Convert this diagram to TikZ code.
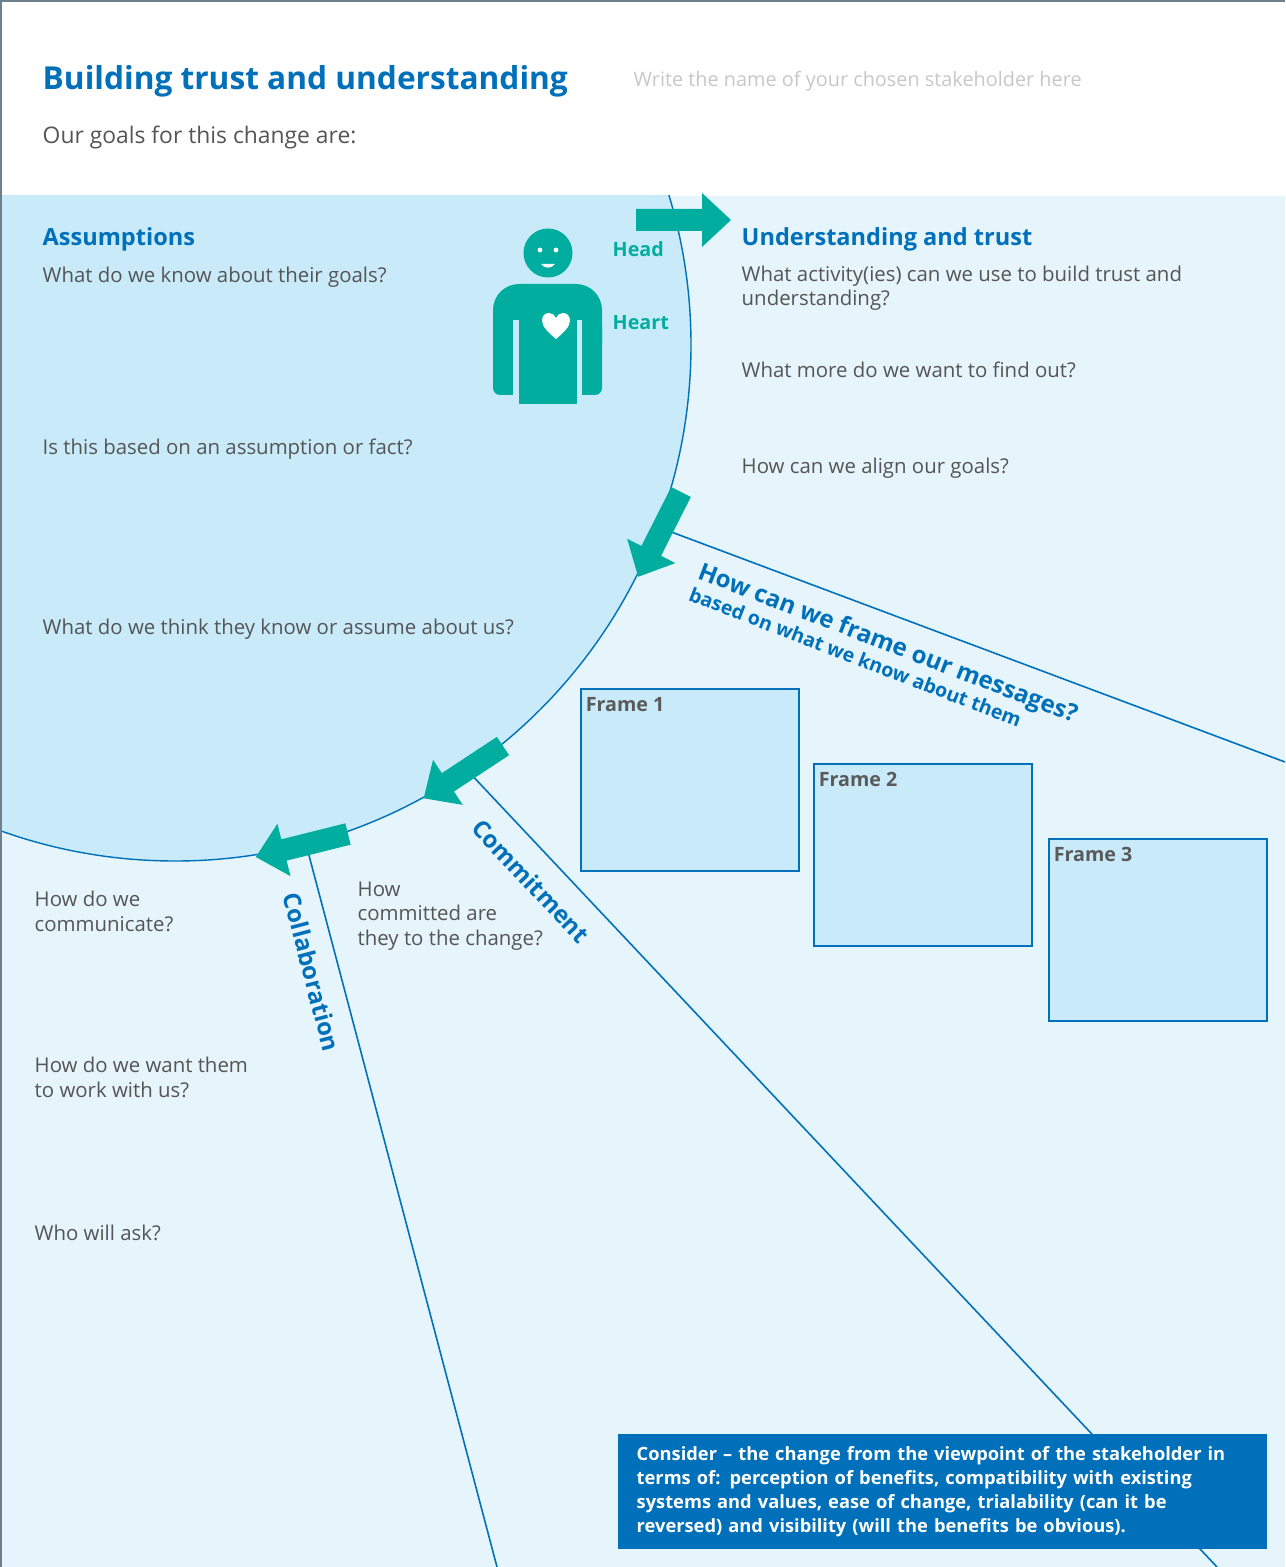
\documentclass[tikz,border=0pt]{standalone}
\usepackage{fontspec}
\setmainfont{Open Sans}
\usetikzlibrary{positioning}
\definecolor{nhsblue}{RGB}{0,112,186}
\definecolor{tealgreen}{RGB}{0,173,159}
\definecolor{paleblue}{RGB}{229,245,251}
\definecolor{circleblue}{RGB}{200,234,249}
\definecolor{textgrey}{RGB}{85,85,85}
\definecolor{hintgrey}{RGB}{200,200,200}
\definecolor{framegrey}{RGB}{90,90,90}
\definecolor{edgegrey}{RGB}{110,128,142}
\newcommand\bodysize{\fontsize{5.8}{6.83}\selectfont}
\newcommand\headsize{\fontsize{6.7}{8}\selectfont}
\begin{document}
\begin{tikzpicture}[x=0.01cm,y=-0.01cm]
\tikzstyle{question}=[anchor=base west,inner sep=0pt,align=left,text=textgrey,font=\bodysize]
\tikzstyle{heading}=[anchor=base west,inner sep=0pt,text=nhsblue,font=\bfseries\headsize]
\tikzstyle{sidelabel}=[inner sep=0pt,text=nhsblue,font=\bfseries\fontsize{6.8}{8}\selectfont]
\tikzstyle{divider}=[draw=nhsblue,line width=0.45pt]
\tikzstyle{framebox}=[draw=nhsblue,fill=circleblue,line width=0.45pt,minimum width=2.18cm,minimum height=1.82cm,inner sep=0pt]
\tikzstyle{framelabel}=[anchor=base west,inner sep=0pt,text=framegrey,font=\bfseries\fontsize{5.6}{6.8}\selectfont]
\tikzstyle{bigarrow}=[fill=tealgreen]
\useasboundingbox (0,0) rectangle (1285,1567);
% header and panel
\fill[white] (0,0) rectangle (1285,196);
\fill[paleblue] (0,196) rectangle (1285,1567);
\begin{scope}
\clip (0,196) rectangle (1285,1567);
\filldraw[fill=circleblue,draw=nhsblue,line width=0.4pt] (175,345) circle[radius=516];
\end{scope}
\draw[edgegrey,line width=0.6pt] (1,1567) -- (1,1) -- (1285,1);
% dividers
\coordinate (m1) at (658,527);
\coordinate (m2) at (1285,762);
\coordinate (c1) at (467,770);
\coordinate (c2) at (1217,1567);
\coordinate (k1) at (306,844);
\coordinate (k2) at (497,1567);
\draw[divider] (m1) -- (m2);
\draw[divider] (c1) -- (c2);
\draw[divider] (k1) -- (k2);
% frames
\node [framebox] at (690,780) (f1) {};
\node [framebox] at (923,855) (f2) {};
\node [framebox] at (1158,930) (f3) {};
\node [framelabel] at ([shift={(5,23)}]f1.north west) (l1) {Frame 1};
\node [framelabel] at ([shift={(5,23)}]f2.north west) (l2) {Frame 2};
\node [framelabel] at ([shift={(5,23)}]f3.north west) (l3) {Frame 3};
% consider box
\node [fill=nhsblue,text=white,anchor=north west,align=left,text width=6.11cm,inner xsep=0.19cm,minimum height=1.15cm,font=\bfseries\fontsize{5.2}{6.83}\selectfont] at (617,1433) (consider) {Consider -- the change from the viewpoint of the stakeholder in\\terms of: perception of benefits, compatibility with existing\\systems and values, ease of change, trialability (can it be\\reversed) and visibility (will the benefits be obvious).};
% header texts
\node [anchor=base west,inner sep=0pt,text=nhsblue,font=\bfseries\fontsize{9}{10}\selectfont] at (42,90) (title) {Building trust and understanding};
\node [anchor=base west,inner sep=0pt,text=hintgrey,font=\fontsize{5.65}{6.8}\selectfont] at (633,87) (hint) {Write the name of your chosen stakeholder here};
\node [question,font=\fontsize{6.5}{7.6}\selectfont] at (42,144) (goals) {Our goals for this change are:};
% assumptions
\node [heading] at (42,246) (assume) {Assumptions};
\node [question] at (42,283) (q1) {What do we know about their goals?};
\node [question] at (42,455) (q2) {Is this based on an assumption or fact?};
\node [question] at (42,634) (q3) {What do we think they know or assume about us?};
% understanding and trust
\node [heading] at (741,246) (trust) {Understanding and trust};
\node [question] at (741,306) (q4) {What activity(ies) can we use to build trust and\\understanding?};
\node [question] at (741,377) (q5) {What more do we want to find out?};
\node [question] at (741,473) (q6) {How can we align our goals?};
% framing
\node [anchor=base west,inner sep=0pt,text=nhsblue,font=\bfseries\fontsize{6.85}{8}\selectfont,rotate=-21] at (696,578) (frame) {How can we frame our messages?};
\node [anchor=base west,inner sep=0pt,text=nhsblue,font=\bfseries\fontsize{5.55}{7}\selectfont,rotate=-21] at (687,600) (based) {based on what we know about them};
% commitment and collaboration
\node [sidelabel,rotate=-46.7] at (531,881) (commit) {Commitment};
\node [sidelabel,rotate=-75.3] at (312,972) (collab) {Collaboration};
\node [question] at (357,945) (q7) {How\\committed are\\they to the change?};
\node [question] at (34,931) (q8) {How do we\\communicate?};
\node [question] at (34,1097) (q9) {How do we want them\\to work with us?};
\node [question] at (34,1240) (q10) {Who will ask?};
% arrows
\foreach \x/\y/\ang in {636/220/0,681/492/243.2,503/746/213.4,348/834/194}
  \fill[bigarrow,shift={(\x,\y)},rotate=\ang] (0,-11) -- (66,-11) -- (66,-27) -- (95,0) -- (66,27) -- (66,11) -- (0,11) -- cycle;
% person
\fill[tealgreen] (548,253) circle[radius=24.5];
\fill[white] (540,250) circle[radius=2.4];
\fill[white] (556,250) circle[radius=2.4];
\fill[white] (541,264) .. controls (545,269) and (551,269) .. (555,264) -- cycle;
\fill[tealgreen,rounded corners=0.26cm] (493,284) rectangle (602,370);
\fill[tealgreen,rounded corners=0.07cm] (493,320) rectangle (602,395);
\fill[tealgreen] (519,380) rectangle (577,404);
\fill[circleblue] (513,320) rectangle (519,396);
\fill[circleblue] (577,320) rectangle (582,396);
\fill[white] (556,339) .. controls (549,333) and (542,327) .. (542,320.5) .. controls (542,316) and (545,313) .. (549,313) .. controls (552,313) and (555,315) .. (556,318) .. controls (557,315) and (560,313) .. (563,313) .. controls (567,313) and (570,316) .. (570,320.5) .. controls (570,327) and (563,333) .. (556,339) -- cycle;
\node [anchor=base west,inner sep=0pt,text=tealgreen,font=\bfseries\fontsize{5.6}{6.8}\selectfont] at (612,257) (head) {Head};
\node [anchor=base west,inner sep=0pt,text=tealgreen,font=\bfseries\fontsize{5.6}{6.8}\selectfont] at (612,330) (heart) {Heart};
\end{tikzpicture}
\end{document}
